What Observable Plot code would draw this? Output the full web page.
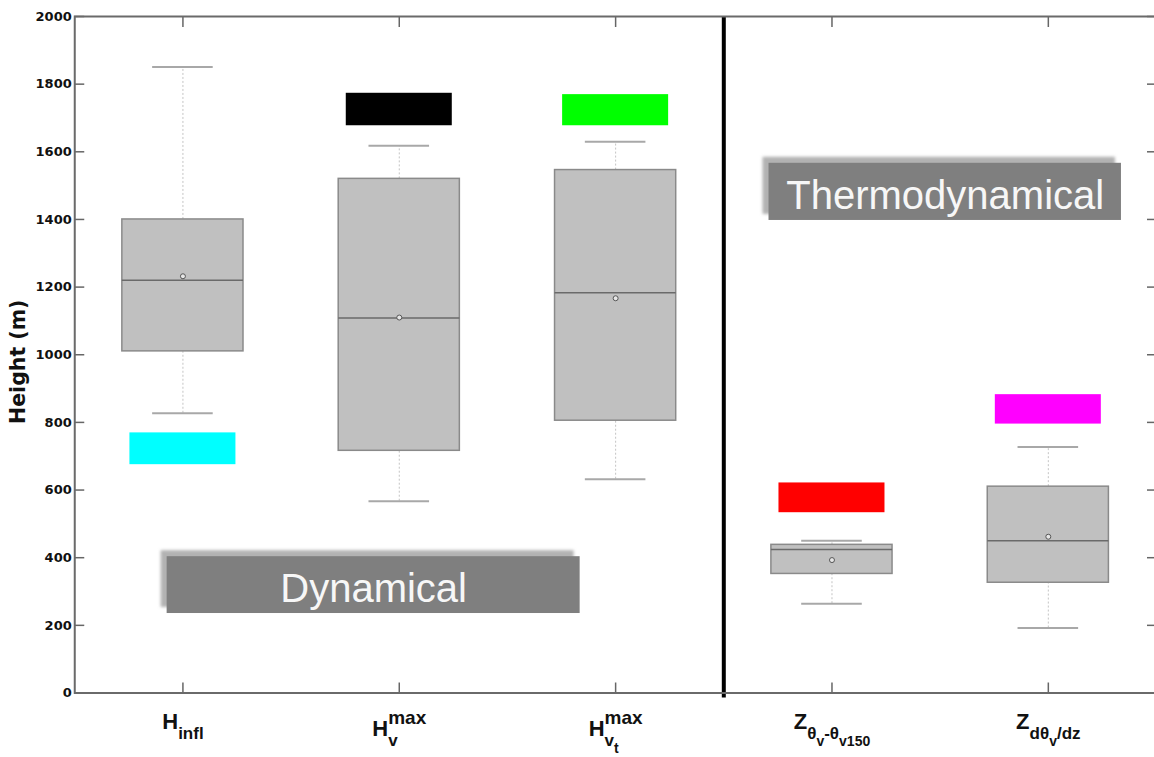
<!DOCTYPE html>
<html>
<head>
<meta charset="utf-8">
<script src="https://cdn.jsdelivr.net/npm/d3@7"></script>
<script src="https://cdn.jsdelivr.net/npm/@observablehq/plot@0.6"></script>
<style>
  html, body { margin: 0; padding: 0; background: #fff; }
  #chart svg { display: block; }
</style>
</head>
<body>
<div id="chart"></div>
<script>
// ---- data ----
const categories = ["H_infl", "H_v^max", "H_vt^max", "Z_θv-θv150", "Z_dθv/dz"];
const positions = [1, 2, 3, 4, 5];
const whiskerLow  = [827, 567, 632, 264, 192];
const q1          = [1010, 716, 805, 352, 326];
const median      = [1220, 1109, 1183, 424, 450];
const q3          = [1400, 1520, 1546, 438, 610];
const whiskerHigh = [1851, 1618, 1630, 450, 727];
const mean        = [1232, 1110, 1167, 393, 462];
const markerLow   = [675, 1677, 1677, 533, 795];
const markerHigh  = [769, 1773, 1769, 621, 882];
const markerColors = ["#00ffff", "#000000", "#00ff00", "#ff0000", "#ff00ff"];
const yTicks = [0, 200, 400, 600, 800, 1000, 1200, 1400, 1600, 1800, 2000];
// tick label pieces: [text, level]  level 0 = base, -1 = subscript, -2 = sub-subscript, 1 = superscript
const tickLabelParts = [
  [["H", 0], ["infl", -1]],
  [["H", 0], ["v", -1], ["max", 1]],
  [["H", 0], ["v", -1], ["t", -2], ["max", 1]],
  [["Z", 0], ["θ", -1], ["v", -2], ["-", -1], ["θ", -1], ["v150", -2]],
  [["Z", 0], ["dθ", -1], ["v", -2], ["/dz", -1]]
];
const groupNames = ["Dynamical", "Thermodynamical"];
const groupX1 = [0.927, 3.709];
const groupX2 = [2.836, 5.338];
const groupY1 = [235, 1397];
const groupY2 = [403, 1566];
const separatorAt = 3.5;

// ---- tables built from the arrays ----
const boxes = positions.map((p, i) => ({
  pos: p, name: categories[i], lo: whiskerLow[i], q1: q1[i], med: median[i],
  q3: q3[i], hi: whiskerHigh[i], mean: mean[i],
  mLo: markerLow[i], mHi: markerHigh[i], color: markerColors[i]
}));
const groups = groupNames.map((g, i) => ({
  name: g, x1: groupX1[i], x2: groupX2[i], y1: groupY1[i], y2: groupY2[i]
}));

const boxHalf = 0.28, capHalf = 0.14, markHalf = 0.245;
const W = 1154, H = 757;
const mL = 74.25, mR = -2, mT = 16, mB = 64.5;
const SHADOW = "#b2b2b2";

const plot = Plot.plot({
  width: W, height: H,
  marginLeft: mL, marginRight: mR, marginTop: mT, marginBottom: mB,
  style: { background: "#fff", fontFamily: "'Liberation Sans', Arial, sans-serif" },
  x: { domain: [0.5, 5.5], range: [mL, W - mR], axis: null },
  y: { domain: [0, 2000], range: [H - mB, mT], axis: null },
  color: { type: "identity" },
  marks: [
    // whiskers (dotted)
    Plot.ruleX(boxes, { x: "pos", y1: "q3", y2: "hi", stroke: "#c4c4c4", strokeWidth: 1, strokeDasharray: "2,2" }),
    Plot.ruleX(boxes, { x: "pos", y1: "lo", y2: "q1", stroke: "#c4c4c4", strokeWidth: 1, strokeDasharray: "2,2" }),
    // caps
    Plot.ruleY(boxes, { y: "hi", x1: d => d.pos - capHalf, x2: d => d.pos + capHalf, stroke: "#a8a8a8", strokeWidth: 2 }),
    Plot.ruleY(boxes, { y: "lo", x1: d => d.pos - capHalf, x2: d => d.pos + capHalf, stroke: "#a8a8a8", strokeWidth: 2 }),
    // boxes
    Plot.rect(boxes, { x1: d => d.pos - boxHalf, x2: d => d.pos + boxHalf, y1: "q1", y2: "q3",
      fill: "#c0c0c0", stroke: "#8a8a8a", strokeWidth: 1.5 }),
    // medians
    Plot.ruleY(boxes, { y: "med", x1: d => d.pos - boxHalf, x2: d => d.pos + boxHalf, stroke: "#6a6a6a", strokeWidth: 1.5 }),
    // means
    Plot.dot(boxes, { x: "pos", y: "mean", r: 2.5, stroke: "#555", strokeWidth: 1, fill: "#e6e6e6" }),
    // coloured markers
    Plot.rect(boxes, { x1: d => d.pos - markHalf, x2: d => d.pos + markHalf, y1: "mLo", y2: "mHi", fill: "color" }),
    // group labels (shadow + box + text)
    Plot.rect(groups, { x1: "x1", x2: "x2", y1: "y1", y2: "y2", dx: -6, dy: -6, fill: SHADOW }),
    Plot.rect(groups, { x1: "x1", x2: "x2", y1: "y1", y2: "y2", fill: "#7f7f7f" }),
    Plot.text(groups, { x: d => (d.x1 + d.x2) / 2, y: d => (d.y1 + d.y2) / 2, text: "name", dy: 4,
      fill: "#f7f7f7", fontSize: 40, fontFamily: "'Liberation Sans', Arial, sans-serif" }),
    // separator
    Plot.ruleX([separatorAt], { y1: -15, y2: 2000, stroke: "#000", strokeWidth: 4 }),
    // axes (inward ticks)
    Plot.axisY({ anchor: "left", ticks: yTicks, tickSize: -10, tickPadding: 13, tickFormat: "d", label: null,
      stroke: "#666", strokeWidth: 1.5, fill: "#111", fontSize: 13, fontWeight: "bold", fontFamily: "DejaVu Sans" }),
    Plot.axisY({ anchor: "right", ticks: yTicks, tickSize: -10, tickFormat: () => "", label: null, stroke: "#666", strokeWidth: 1.5 }),
    Plot.axisX({ anchor: "bottom", ticks: positions, tickSize: -10, tickFormat: () => "", label: null, stroke: "#666", strokeWidth: 1.5 }),
    Plot.axisX({ anchor: "top", ticks: positions, tickSize: -10, tickFormat: () => "", label: null, stroke: "#666", strokeWidth: 1.5 }),
    Plot.frame({ stroke: "#6a6a6a", strokeWidth: 2 }),
    // category labels (rebuilt with sub/superscripts below)
    Plot.text(positions, { x: d => d, text: (d, i) => categories[i], frameAnchor: "bottom", lineAnchor: "bottom", dy: 36,
      textAnchor: "middle", fill: "#111", fontSize: 22, fontWeight: "bold" }),
    // y label
    Plot.text(["Height (m)"], { frameAnchor: "left", textAnchor: "middle", rotate: -90, dx: -56, dy: 7, fill: "#111",
      fontSize: 20.5, fontWeight: "bold", fontFamily: "DejaVu Sans" })
  ]
});

document.getElementById("chart").append(plot);
const svgNode = plot.tagName.toLowerCase() === "svg" ? plot : plot.querySelector("svg");
const svg = d3.select(svgNode);

// shadow blur
const defs = svg.insert("defs", ":first-child");
defs.append("filter").attr("id", "shadowBlur").attr("x", "-5%").attr("y", "-30%").attr("width", "110%").attr("height", "160%")
  .append("feGaussianBlur").attr("stdDeviation", 1.6);
svg.selectAll("g").filter(function () { return this.getAttribute("fill") === SHADOW; })
  .selectAll("rect").attr("filter", "url(#shadowBlur)");

// rich tick labels
const levelOffset = { "0": 0, "-1": 10, "-2": 17, "1": -12 };
const levelSize = { "0": 22, "-1": 17, "-2": 14, "1": 19 };
svg.selectAll("text").each(function () {
  const i = categories.indexOf(this.textContent);
  if (i < 0) return;
  const parts = tickLabelParts[i];
  const t = d3.select(this);
  t.text(null).attr("y", null);
  const extra = parts.some(p => p[1] === 1) ? 7 : 0;
  let cur = 0, subWidth = 0;
  parts.forEach(([s, lvl]) => {
    const off = levelOffset[lvl] + extra;
    const ts = t.append("tspan").text(s).attr("font-size", levelSize[lvl]).attr("dy", off - cur);
    cur = off;
    if (lvl === 1 && subWidth) ts.attr("dx", -subWidth);
    const w = ts.node().getComputedTextLength();
    if (lvl === 0) subWidth = 0; else if (lvl < 0) subWidth += w;
  });
});
</script>
</body>
</html>
